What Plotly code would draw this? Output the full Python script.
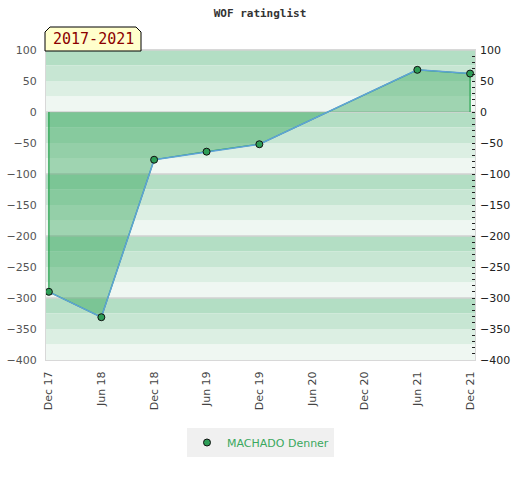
import plotly.graph_objects as go

# rating history
dates = ["2017-12-01", "2018-06-01", "2018-12-01", "2019-06-01",
         "2019-12-01", "2021-06-01", "2021-12-01"]
ratings = [-290, -331, -77, -64, -52, 68, 62]
player = "MACHADO Denner"
period = "2017-2021"

y_ticks = [100, 50, 0, -50, -100, -150, -200, -250, -300, -350, -400]
band_colors = ["#b3dec4", "#c7e6d3", "#dcefe3", "#eff7f2"]  # top to bottom in each 100 block

W, H = 520, 480
L, R, T, B = 46, 45, 50, 120


def px_x(p):
    return (p - L) / (W - L - R)


def px_y(p):
    return (H - B - p) / (H - T - B)


fig = go.Figure()

# filled area between the rating line and zero
fig.add_trace(go.Scatter(
    x=[dates[0]] + dates + [dates[-1]],
    y=[0] + ratings + [0],
    fill="toself", fillcolor="rgba(40,160,80,0.4)",
    line=dict(color="#22a04a", width=1.2),
    mode="lines", showlegend=False, hoverinfo="skip"))

fig.add_trace(go.Scatter(
    x=dates, y=ratings, name=player, mode="lines+markers", showlegend=False,
    line=dict(color="#5fa2d8", width=1.5),
    marker=dict(color="#2e9e57", size=7, line=dict(color="#111", width=1))))

# legend entry shows only the marker
fig.add_trace(go.Scatter(
    x=[None], y=[None], name=player, mode="markers",
    marker=dict(color="#2e9e57", size=7, line=dict(color="#111", width=1))))

# dummy trace so the right-hand axis is drawn
fig.add_trace(go.Scatter(x=dates[:1], y=[0], yaxis="y2", mode="markers",
                         marker=dict(opacity=0), showlegend=False, hoverinfo="skip"))

shapes = []
top = max(y_ticks)
bottom = min(y_ticks)
y = top
while y > bottom:
    for i, c in enumerate(band_colors):
        shapes.append(dict(type="rect", xref="paper", yref="y", x0=0, x1=1,
                           y0=y - 25 * i, y1=y - 25 * (i + 1),
                           fillcolor=c, line=dict(width=0), layer="below"))
    shapes.append(dict(type="line", xref="paper", yref="y", x0=0, x1=1, y0=y, y1=y,
                       line=dict(color="#d2d2d2", width=1.5), layer="below"))
    y -= 100

# period label box with clipped top corners
bx0, bx1, by0, by1, ch = 45, 141, 27, 51, 5
path = (f"M {px_x(bx0)},{px_y(by1)} L {px_x(bx0)},{px_y(by0 + ch)} "
        f"L {px_x(bx0 + ch)},{px_y(by0)} L {px_x(bx1 - ch)},{px_y(by0)} "
        f"L {px_x(bx1)},{px_y(by0 + ch)} L {px_x(bx1)},{px_y(by1)} Z")
shapes.append(dict(type="path", xref="paper", yref="paper", path=path,
                   fillcolor="#ffffcc", line=dict(color="#000", width=1), layer="above"))

fig.update_layout(
    width=W, height=H,
    margin=dict(l=L, r=R, t=T, b=B, autoexpand=False),
    paper_bgcolor="white", plot_bgcolor="white",
    font=dict(family="DejaVu Sans", size=11, color="#444"),
    title=dict(text="<b>WOF ratinglist</b>", x=0.5, xanchor="center", y=1 - 13 / H,
               yanchor="middle", font=dict(family="DejaVu Sans Mono", size=11, color="#333")),
    shapes=shapes,
    annotations=[dict(text=period, xref="paper", yref="paper",
                      x=px_x((bx0 + bx1) / 2), y=px_y((by0 + by1) / 2 + 0.5),
                      xanchor="center", yanchor="middle",
                      showarrow=False, font=dict(family="DejaVu Sans Mono", size=15, color="#8b0000"))],
    xaxis=dict(type="date", range=["2017-11-21", "2021-12-18"], automargin=False,
               tick0="2017-12-01", dtick="M6", tickformat="%b %y", tickangle=-90,
               showgrid=False, zeroline=False, ticks="", ticklabelstandoff=6,
               showline=True, mirror=True, linecolor="#d8d8d8", linewidth=1),
    yaxis=dict(range=[bottom, top], tickvals=y_ticks, showgrid=False, zeroline=False,
               automargin=False, ticks="", ticklabelstandoff=6, tickfont=dict(color="#555"),
               showline=True, mirror=True, linecolor="#d8d8d8", linewidth=1),
    yaxis2=dict(range=[bottom, top], overlaying="y", side="right", tickvals=y_ticks,
                automargin=False, showgrid=False, zeroline=False,
                ticks="inside", ticklen=3, tickcolor="#222",
                minor=dict(dtick=10, ticks="inside", ticklen=3, tickcolor="#222"),
                tickfont=dict(color="#222"), ticklabelstandoff=4, showline=False),
    legend=dict(orientation="h", x=0.5, xanchor="center", y=px_y(428), yanchor="top",
                bgcolor="#f0f0f0", itemwidth=30, font=dict(color="#3aa85e", size=11)),
    hovermode=False,
)

fig.write_html("out.html", config={"displayModeBar": False},
               post_script="document.body.style.margin = '0';")
